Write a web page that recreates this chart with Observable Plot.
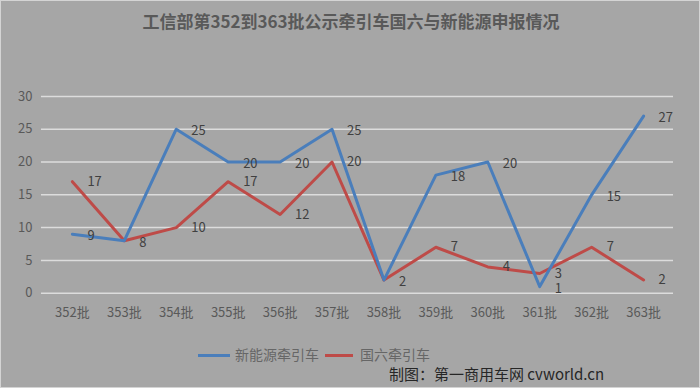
<!DOCTYPE html>
<html><head><meta charset="utf-8">
<script src="https://cdn.jsdelivr.net/npm/d3@7"></script>
<script src="https://cdn.jsdelivr.net/npm/@observablehq/plot@0.6"></script>
<style>
html,body{margin:0;padding:0;}
body{width:700px;height:388px;background:#a6a6a6;font-family:"Noto Sans CJK SC","Noto Sans",sans-serif;overflow:hidden;}
#wrap{position:relative;width:700px;height:388px;box-sizing:border-box;border:1px solid #d4d4d4;}
#title{position:absolute;left:0;top:7px;width:700px;text-align:center;font-size:17px;font-weight:bold;color:#595959;}
#chart{position:absolute;left:-1px;top:59px;}
#legend{position:absolute;top:343px;left:0;width:700px;font-size:14px;color:#666;}
.sw{position:absolute;height:3px;top:10px;}
.lt{position:absolute;top:0;}
#cap{position:absolute;left:388px;top:362px;font-size:15px;color:#262626;white-space:nowrap;}
</style></head>
<body><div id="wrap">
<div id="title">工信部第352到363批公示牵引车国六与新能源申报情况</div>
<div id="chart"></div>
<div id="legend">
<div class="sw" style="left:197px;width:32px;background:#4a7ebb"></div>
<div class="lt" style="left:234px">新能源牵引车</div>
<div class="sw" style="left:324px;width:28px;background:#be4b48"></div>
<div class="lt" style="left:359px">国六牵引车</div>
</div>
<div id="cap">制图：第一商用车网 cvworld.cn</div>
</div>
<script>
const batches = ["352批","353批","354批","355批","356批","357批","358批","359批","360批","361批","362批","363批"];
const newEnergy = [9, 8, 25, 20, 20, 25, 2, 18, 20, 1, 15, 27];
const guoLiu = [17, 8, 10, 17, 12, 20, 2, 7, 4, 3, 7, 2];
const yTicks = [0, 5, 10, 15, 20, 25, 30];
const seriesNames = ["新能源牵引车", "国六牵引车"];
const seriesColors = ["#4a7ebb", "#be4b48"];

const blueRows = batches.map((b, i) => ({batch: b, v: newEnergy[i]}));
const redRows = batches.map((b, i) => ({batch: b, v: guoLiu[i]}));
// where both series share a value, the two labels coincide: draw it once
const redLabels = redRows.filter((d, i) => d.v !== newEnergy[i]);

const chart = Plot.plot({
  width: 700,
  height: 270,
  marginTop: 36,
  marginBottom: 37,
  marginLeft: 41,
  marginRight: 26,
  style: {background: "transparent", fontFamily: "'Noto Sans CJK SC','Noto Sans',sans-serif", fontSize: "13px", color: "#595959"},
  x: {type: "point", domain: batches, padding: 0.5, label: null},
  y: {domain: [0, 30], label: null},
  marks: [
    Plot.ruleY(yTicks, {stroke: "#dcdcdc", strokeWidth: 1.5}),
    Plot.axisX({tickSize: 0, tickPadding: 15, fill: "#595959", fontSize: 13}),
    Plot.axisY({ticks: yTicks, tickSize: 0, tickPadding: 9, fill: "#595959", fontSize: 13, tickFormat: d => d}),
    Plot.line(redRows, {x: "batch", y: "v", stroke: seriesColors[1], strokeWidth: 3, strokeLinejoin: "round"}),
    Plot.line(blueRows, {x: "batch", y: "v", stroke: seriesColors[0], strokeWidth: 3, strokeLinejoin: "round"}),
    Plot.text(redLabels, {x: "batch", y: "v", text: d => String(d.v), textAnchor: "start", dx: 15, dy: 0, fill: "#404040", fontSize: 13}),
    Plot.text(blueRows, {x: "batch", y: "v", text: d => String(d.v), textAnchor: "start", dx: 15, dy: 2, fill: "#404040", fontSize: 13})
  ]
});
document.getElementById("chart").appendChild(chart);
</script>
</body></html>
